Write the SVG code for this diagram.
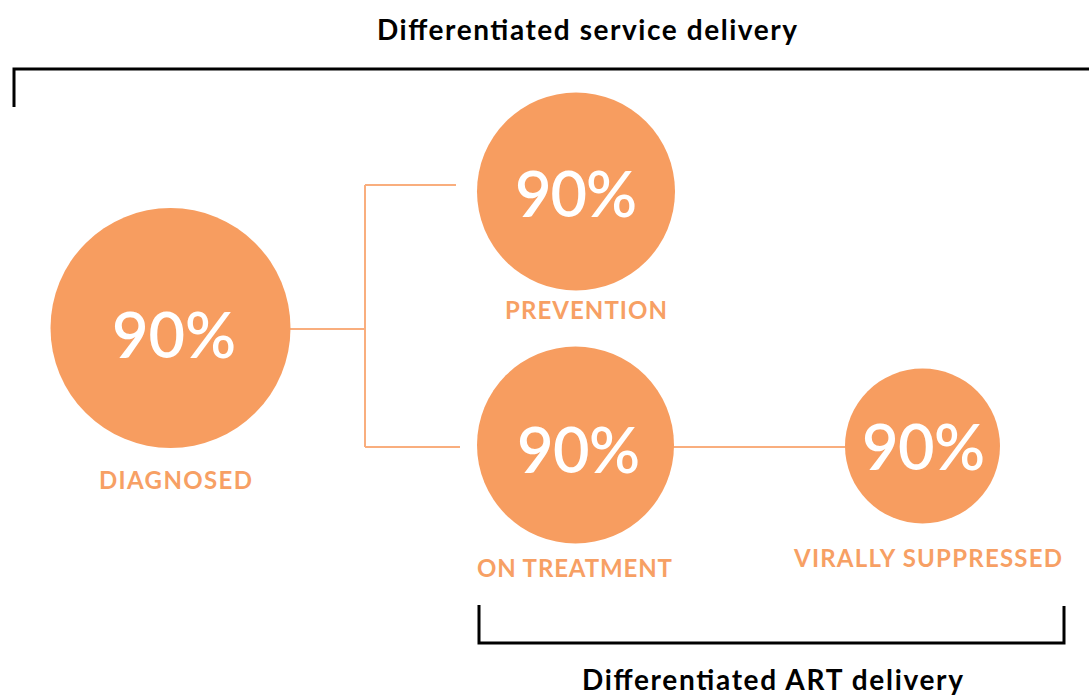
<svg xmlns="http://www.w3.org/2000/svg" width="1089" height="697" viewBox="0 0 1089 697">
<style>
.circ{fill:#F79D60}
.pct{font-family:Lato,"Open Sans",sans-serif;font-weight:600;font-size:63px;fill:#FFFFFF;text-anchor:middle}
.lbl{font-family:Lato,"Open Sans",sans-serif;font-weight:700;font-size:24px;fill:#F7A064;text-anchor:middle}
.ttl{font-family:Lato,"Open Sans",sans-serif;font-weight:700;font-size:28px;fill:#000000;text-anchor:middle}
.br{fill:none;stroke:#000000;stroke-width:3}
.cn{fill:none;stroke:#F9AE7E;stroke-width:2}
</style>
<rect width="1089" height="697" fill="#FFFFFF"/>
<g id="brackets">
<path class="br" d="M14,107 V69 H1089"/>
<path class="br" d="M479,605 V643 H1064 V606"/>
<text class="ttl" x="587" y="40" textLength="420">Differentiated service delivery</text>
<text class="ttl" x="772.5" y="690" textLength="381">Differentiated ART delivery</text>
</g>
<g id="connectors">
<path class="cn" d="M290,329 H365"/>
<path class="cn" d="M365,185 V447"/>
<path class="cn" d="M365,185 H456"/>
<path class="cn" d="M365,447 H460"/>
<path class="cn" d="M673,447 H846"/>
</g>
<g id="diagnosed">
<circle class="circ" cx="170.5" cy="328" r="120"/>
<text class="pct" x="174" y="358" textLength="124">90%</text>
<text class="lbl" x="175.5" y="489" textLength="153">DIAGNOSED</text>
</g>
<g id="prevention">
<circle class="circ" cx="576" cy="191.5" r="99"/>
<text class="pct" x="576" y="217" textLength="122">90%</text>
<text class="lbl" x="586" y="319" textLength="162">PREVENTION</text>
</g>
<g id="on-treatment">
<circle class="circ" cx="575.5" cy="445" r="98.5"/>
<text class="pct" x="578.5" y="473" textLength="123">90%</text>
<text class="lbl" x="574.5" y="577" textLength="195">ON TREATMENT</text>
</g>
<g id="virally-suppressed">
<circle class="circ" cx="922.5" cy="446" r="77.5"/>
<text class="pct" x="923.5" y="470" textLength="123">90%</text>
<text class="lbl" x="928" y="567" textLength="268">VIRALLY SUPPRESSED</text>
</g>
</svg>
